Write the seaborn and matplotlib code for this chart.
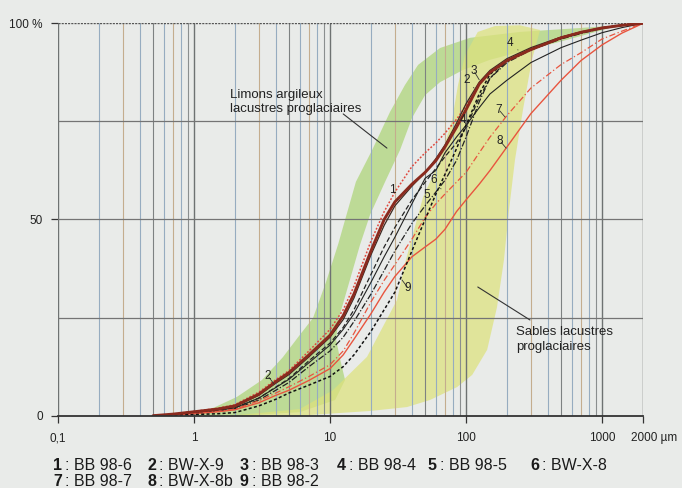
import numpy as np
import pandas as pd
import matplotlib
matplotlib.use("Agg")
import matplotlib.pyplot as plt
from matplotlib.ticker import NullLocator
from matplotlib.transforms import ScaledTranslation
import seaborn as sns

# ---------------- data ----------------
SIZES = [0.5, 0.7, 1, 1.5, 2, 3, 4, 5, 7, 10, 12.5, 15, 20, 25, 30, 40, 50, 60, 70, 85,
         100, 125, 150, 200, 300, 500, 700, 1000, 1400, 2000]

C1 = [0, 0.4, 1.1, 1.9, 2.8, 6, 9.2, 11.5, 16.5, 22, 27, 33, 44.5, 52, 57, 63.5, 67, 69.5, 72, 75.5,
      79, 84.5, 87.5, 90.5, 93.5, 96.5, 97.8, 98.9, 99.5, 100]
C2 = [0, 0.4, 1, 1.7, 2.5, 5.5, 8.7, 11, 15.5, 20.5, 25.5, 31, 42, 50, 54.5, 59, 62, 65, 68.5, 73.5,
      78, 84.5, 87.5, 90.5, 93.3, 96.3, 97.7, 98.8, 99.5, 100]
C3 = [0, 0.35, 0.9, 1.6, 2.3, 5.2, 8.3, 10.5, 15, 20, 24.5, 30, 41, 48.5, 53.5, 58.5, 62, 65.5, 69, 74.5,
      79.5, 85, 88, 91, 93.8, 96.5, 97.8, 98.9, 99.5, 100]
C4 = [0, 0.3, 0.8, 1.4, 2.0, 4.5, 7.3, 9.5, 14, 18.5, 22.5, 27, 36, 43, 48, 55, 59.5, 63, 66, 69.5,
      73.5, 81, 86, 90.5, 93.5, 96.3, 97.6, 98.8, 99.5, 100]
C5 = [0, 0.3, 0.8, 1.4, 2.0, 4.5, 7.2, 9.3, 13.5, 18, 22, 26, 34, 40.5, 45.5, 54, 60.5, 62.5, 67, 71,
      74, 78.5, 82, 85.5, 90, 93.8, 95.7, 97.6, 98.9, 100]
C6 = [0, 0.25, 0.7, 1.2, 1.8, 4, 6.5, 8.5, 12.5, 16.5, 20, 24, 31, 37, 42, 49, 53.5, 57, 60, 65,
      71, 80, 86, 90, 93.2, 96, 97.4, 98.7, 99.4, 100]
C7 = [0, 0.2, 0.6, 1.1, 1.7, 3.8, 5.8, 7.4, 10, 13, 16.5, 21, 29, 34.5, 38.5, 45, 50.5, 54, 56.5, 59.5,
      62, 67, 71, 76.5, 83.5, 89.5, 92.5, 96, 98, 100]
C8 = [0, 0.15, 0.5, 1.0, 1.5, 3.3, 5.2, 6.5, 9, 12, 15.5, 19.5, 26, 31.5, 35.5, 40.5, 43, 45, 47.5, 52,
      55, 59, 62.5, 68.5, 77, 85.5, 90.5, 94.5, 97.5, 100]
C9 = [0, 0.1, 0.3, 0.5, 0.8, 2.5, 4.2, 5.8, 7.8, 10, 12.5, 15.5, 21.5, 27, 31.5, 42, 50, 56.5, 61.5, 68,
      74, 82, 87, 90.5, 93.3, 96.2, 97.6, 98.8, 99.5, 100]

SAMPLE_NUMS = ["1", "2", "3", "4", "5", "6", "7", "8", "9"]
SAMPLE_NAMES = ["BB 98-6", "BW-X-9", "BB 98-3", "BB 98-4", "BB 98-5",
                "BW-X-8", "BB 98-7", "BW-X-8b", "BB 98-2"]
CURVES = [C1, C2, C3, C4, C5, C6, C7, C8, C9]

# Green band (Limons argileux lacustres proglaciaires)
GX_UP = [0.93, 1.43, 2.07, 3.16, 4.5, 6.0, 7.5, 9.35, 11.5, 12.9, 15.5, 20.4, 27.6, 35.6, 44.4, 64.4, 107, 249, 689, 1089]
GY_UP = [0, 2.2, 4.8, 9.1, 14.9, 20.6, 24.9, 34.1, 43.8, 49.9, 59.6, 67.7, 77.4, 84.3, 89.4, 93.7, 96.3, 97.8, 98.8, 99.3]
GX_LO = [1089, 491, 249, 150, 95, 64.4, 50, 40.1, 32.7, 25.4, 19.7, 16.6, 14.0, 11.5, 11.1, 11.9, 12.9, 10.9, 6.0, 2.2]
GY_LO = [98.6, 95.3, 92.7, 90.7, 88.1, 85.0, 81.7, 75.9, 67.7, 59.6, 51.2, 43.5, 34.6, 24.4, 19.3, 14.2, 9.1, 4.0, 0.9, 0]

# Yellow band (Sables lacustres proglaciaires)
YX_UP = [1.84, 3.06, 6.0, 10.5, 18.7, 31.1, 35.6, 48.3, 64.4, 78.9, 87.3, 98.4, 122, 163, 249, 350]
YY_UP = [0, 0.7, 1.7, 6.5, 15.0, 29.5, 38.9, 55.7, 65.2, 75.3, 84.3, 91.9, 97.8, 99.3, 99.5, 98.3]
YX_LO = [305, 262, 229, 207, 190, 169, 143, 111, 86, 54.3, 36.8, 19.7, 11.9, 6.0]
YY_LO = [90.7, 77.9, 65.2, 52.4, 39.7, 27.7, 16.8, 10.4, 7.3, 4.0, 2.2, 1.2, 0.7, 0]

X_TICKS = [0.1, 1, 10, 100, 1000, 2000]
X_TICKLABELS = ["0,1", "1", "10", "100", "1000", "2000 µm"]
Y_TICKS = [0, 50, 100]
Y_TICKLABELS = ["0", "50", "100 %"]

# curve number labels: (text, text position, pointed position)
LABELS = [
    ("1", (28.6, 57.5), (31.6, 55.0)),
    ("2", (101.6, 85.6), (114.5, 83.5)),
    ("3", (114.5, 87.8), (125, 85.6)),
    ("4", (211, 95.0), (241, 93.2)),
    ("4", (95, 75.4), (103.5, 73.6)),
    ("5", (51.6, 56.2), (45.9, 58.3)),
    ("6", (58.2, 60.0), (65.5, 57.8)),
    ("7", (175, 77.9), (193.6, 76.1)),
    ("8", (178, 70.0), (197, 68.2)),
    ("9", (37.5, 32.5), (33.8, 34.6)),
    ("2", (3.5, 10.1), (3.87, 8.1)),
]

# ---------------- style ----------------
sns.set_theme(style="white")
plt.rcParams["font.family"] = ["Liberation Sans", "DejaVu Sans"]

BG = "#e9ebe9"
STYLES = [
    dict(color="#e0473c", lw=1.1, linestyle=(0, (1.2, 1.2))),
    dict(color="#8a2a1e", lw=2.1, linestyle="-"),
    dict(color="#3c2a22", lw=0.9, linestyle="-"),
    dict(color="#222222", lw=0.9, linestyle=(0, (4, 2))),
    dict(color="#222222", lw=0.8, linestyle="-"),
    dict(color="#222222", lw=0.9, linestyle=(0, (5, 1.5, 1, 1.5))),
    dict(color="#e8553f", lw=0.9, linestyle=(0, (5, 2, 1, 2))),
    dict(color="#e8553f", lw=1.0, linestyle="-"),
    dict(color="#111111", lw=1.1, linestyle=(0, (2, 1.5))),
]

fig = plt.figure(figsize=(6.82, 4.88), dpi=100, facecolor=BG)
ax = fig.add_axes([58 / 682, 1 - 415.7 / 488, 585 / 682, 392.4 / 488])
ax.set_facecolor(BG)
ax.set_xscale("log")
ax.set_xlim(0.1, 2000)
ax.set_ylim(0, 100)

# bands
ax.fill(GX_UP + GX_LO, GY_UP + GY_LO, color="#acd476", alpha=0.72, lw=0, zorder=1)
ax.fill(YX_UP + YX_LO, YY_UP + YY_LO, color="#dde27c", alpha=0.72, lw=0, zorder=1.1)

# vertical grid lines
grid_cols = {1: "#6e7272", 2: "#96acc0", 3: "#c4ad8e", 4: "#96acc0", 5: "#7e8282",
             6: "#96acc0", 7: "#c4ad8e", 8: "#96acc0", 9: "#8a8e8e"}
for dec in [0.1, 1, 10, 100]:
    for m in range(1, 10):
        v = dec * m
        ax.axvline(v, color=grid_cols[m], lw=0.8 if m != 1 else 1.0, zorder=2)
ax.axvline(1000, color="#6e7272", lw=1.0, zorder=2)
ax.axvline(2000, color="#555858", lw=1.0, zorder=2)
for h in [25, 50, 75]:
    ax.axhline(h, color="#747474", lw=0.9, zorder=2)
ax.axhline(100, color="#555555", lw=1.0, linestyle=(0, (1.5, 0.8)), zorder=2)

# curves
rows = []
for num, name, vals in zip(SAMPLE_NUMS, SAMPLE_NAMES, CURVES):
    for s, p in zip(SIZES, vals):
        rows.append({"sample": num, "size": s, "pct": p})
df = pd.DataFrame(rows)
for num, st in zip(SAMPLE_NUMS, STYLES):
    sub = df[df["sample"] == num]
    sns.lineplot(data=sub, x="size", y="pct", ax=ax, estimator=None, sort=False,
                 zorder=4 if num == "2" else 3, **st)

ax.set_xlabel("")
ax.set_ylabel("")

# spines & ticks
for s in ["top", "right", "left"]:
    ax.spines[s].set_visible(False)
ax.spines["bottom"].set_color("#333333")
ax.spines["bottom"].set_linewidth(1.3)
ax.spines["bottom"].set_zorder(5)

ax.set_xticks(X_TICKS)
ax.set_xticklabels(X_TICKLABELS)
ax.xaxis.set_minor_locator(NullLocator())
ax.set_yticks(Y_TICKS)
ax.set_yticklabels(Y_TICKLABELS)
ax.yaxis.set_minor_locator(NullLocator())
ax.tick_params(axis="x", direction="out", length=5, width=0.9, color="#333333",
               labelsize=8.5, labelcolor="#222222", pad=7, bottom=True)
ax.tick_params(axis="y", direction="out", length=5, width=0.9, color="#333333",
               labelsize=8.5, labelcolor="#222222", pad=6, left=True)
last = ax.get_xticklabels()[-1]
last.set_horizontalalignment("left")
last.set_transform(last.get_transform() + ScaledTranslation(-0.12, 0, fig.dpi_scale_trans))

# annotations
ax.text(1.84, 81.7, "Limons argileux", fontsize=9.5, color="#222222", va="center", ha="left", zorder=6)
ax.text(1.84, 78.2, "lacustres proglaciaires", fontsize=9.5, color="#222222", va="center", ha="left", zorder=6)
ax.plot([12.5, 26.2], [76.9, 68.2], color="#333333", lw=0.8, zorder=6)

ax.text(233, 21.3, "Sables lacustres", fontsize=9.5, color="#222222", va="center", ha="left", zorder=6)
ax.text(233, 17.6, "proglaciaires", fontsize=9.5, color="#222222", va="center", ha="left", zorder=6)
ax.plot([122, 295], [32.8, 24.4], color="#333333", lw=0.8, zorder=6)

for txt, tpos, ppos in LABELS:
    ax.annotate(txt, xy=ppos, xytext=tpos, fontsize=8.5, color="#222222",
                ha="center", va="center", zorder=7,
                arrowprops=dict(arrowstyle="-", lw=0.6, color="#333333",
                                shrinkA=1, shrinkB=0))

# bottom legend
row1_x = [53, 147, 240, 337, 428, 530]
row2_x = [53, 147, 240]
positions = [(x, 466) for x in row1_x] + [(x, 481) for x in row2_x]
for (px, py), num, name in zip(positions, SAMPLE_NUMS, SAMPLE_NAMES):
    fig.text(px / 682, 1 - py / 488, num, fontsize=11.5, fontweight="bold",
             color="#1a1a1a", ha="left", va="center")
    fig.text((px + 12) / 682, 1 - py / 488, ": " + name, fontsize=11.5,
             color="#1a1a1a", ha="left", va="center")

fig.savefig("out.png", dpi=100, facecolor=BG)
